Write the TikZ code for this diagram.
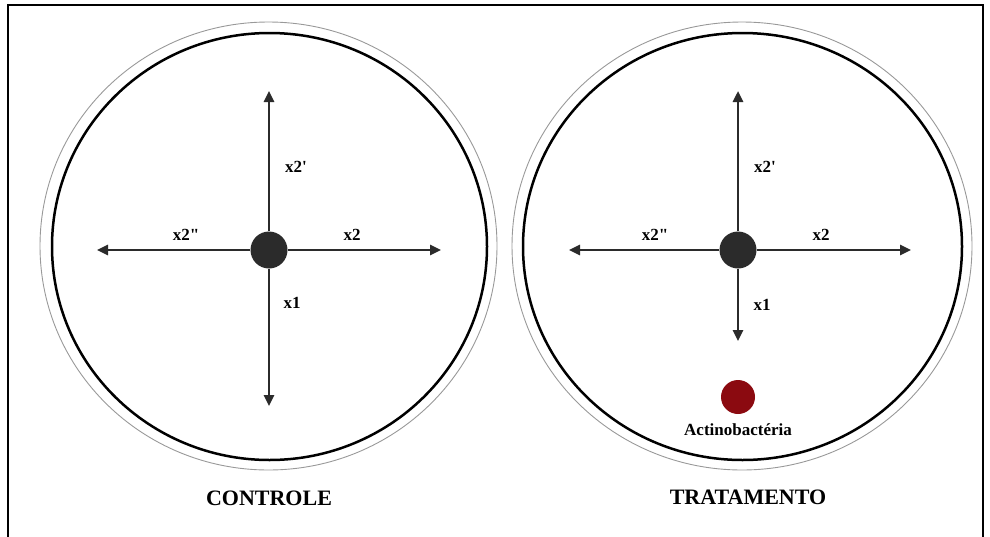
\documentclass[tikz,border=0pt]{standalone}
\usepackage{fontspec}
\newfontfamily\lserif{Liberation Serif}
\usetikzlibrary{arrows.meta}
\definecolor{dotgray}{HTML}{2B2B2B}
\definecolor{actred}{HTML}{8B0A10}
\tikzset{
  lab/.style={font=\lserif\fontsize{17}{20}\selectfont\bfseries, inner sep=0pt},
  title/.style={font=\lserif\fontsize{22}{26}\selectfont\bfseries, inner sep=0pt},
  axis/.style={line width=2.5pt, draw=dotgray, -{Triangle[length=11pt,width=10pt]}},
  centre/.style={circle, fill=dotgray, minimum size=37pt, inner sep=0pt},
  outerring/.style={draw=gray!80, line width=0.9pt},
  innerring/.style={draw=black, line width=2.5pt}
}
\begin{document}
\begin{tikzpicture}[x=1pt,y=-1pt]
\useasboundingbox (0,0) rectangle (990,536);
\draw[line width=2pt] (8,545) -- (8,5) -- (983,5) -- (983,545);
% left dish
\draw[outerring] (268.5,246) ellipse [x radius=228.5, y radius=224];
\draw[innerring] (269.5,246.5) ellipse [x radius=217.5, y radius=213.5];
\node[centre] (c1) at (269,250) {};
\coordinate (c1u) at (269,91);
\coordinate (c1d) at (269,406);
\coordinate (c1l) at (97,250);
\coordinate (c1r) at (441,250);
\draw[axis] (c1) -- (c1u);
\draw[axis] (c1) -- (c1d);
\draw[axis] (c1) -- (c1l);
\draw[axis] (c1) -- (c1r);
\node[lab] (l1a) at (296,167) {x2\symbol{39}};
\node[lab] (l1b) at (186,235) {x2\symbol{34}};
\node[lab] (l1c) at (352,235) {x2};
\node[lab] (l1d) at (292,303) {x1};
\node[title] (t1) at (269,498) {CONTROLE};
% right dish
\draw[outerring] (742,246) ellipse [x radius=230, y radius=224];
\draw[innerring] (742.5,246.5) ellipse [x radius=219.5, y radius=213.5];
\node[centre] (c2) at (738,250) {};
\coordinate (c2u) at (738,91);
\coordinate (c2d) at (738,341);
\coordinate (c2l) at (569,250);
\coordinate (c2r) at (911,250);
\draw[axis] (c2) -- (c2u);
\draw[axis] (c2) -- (c2d);
\draw[axis] (c2) -- (c2l);
\draw[axis] (c2) -- (c2r);
\node[lab] (l2a) at (765,167) {x2\symbol{39}};
\node[lab] (l2b) at (655,235) {x2\symbol{34}};
\node[lab] (l2c) at (821,235) {x2};
\node[lab] (l2d) at (762,305) {x1};
\node[circle, fill=actred, minimum size=34pt, inner sep=0pt] (act) at (738,397) {};
\node[lab] (actl) at (738,430) {Actinobactéria};
\node[title] (t2) at (748,497) {TRATAMENTO};
\end{tikzpicture}
\end{document}
